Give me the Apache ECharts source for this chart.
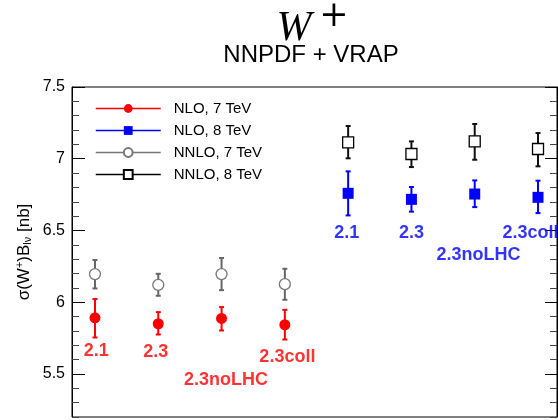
<!DOCTYPE html>
<html><head><meta charset="utf-8">
<script src="https://cdn.jsdelivr.net/npm/echarts@6/dist/echarts.min.js"></script>
<style>html,body{margin:0;padding:0;background:#fff}#c{width:558px;height:420px}</style>
</head><body><div id="c"></div>
<script>
// ---- data ----
const pdfSets = ['2.1', '2.3', '2.3noLHC', '2.3coll'];
const seriesNames = ['NLO, 7 TeV', 'NLO, 8 TeV', 'NNLO, 7 TeV', 'NNLO, 8 TeV'];
const xPos7 = [0, 1, 2, 3];
const xPos8 = [4, 5, 6, 7];
const nlo7 = [5.891, 5.850, 5.887, 5.843];
const nlo7Up = [0.131, 0.081, 0.079, 0.104];
const nlo7Dn = [0.137, 0.075, 0.084, 0.103];
const nnlo7 = [6.196, 6.121, 6.196, 6.126];
const nnlo7Up = [0.098, 0.077, 0.112, 0.107];
const nnlo7Dn = [0.100, 0.076, 0.112, 0.109];
const nlo8 = [6.759, 6.717, 6.754, 6.731];
const nlo8Up = [0.153, 0.086, 0.095, 0.116];
const nlo8Dn = [0.154, 0.086, 0.091, 0.110];
const nnlo8 = [7.114, 7.033, 7.121, 7.068];
const nnlo8Up = [0.114, 0.088, 0.121, 0.111];
const nnlo8Dn = [0.111, 0.091, 0.128, 0.121];
// annotation anchors (data units)
const labelX7 = [0.02, 0.96, 2.07, 3.04];
const labelY7 = [5.660, 5.653, 5.458, 5.618];
const labelX8 = [3.98, 5.00, 6.06, 6.88];
const labelY8 = [6.479, 6.479, 6.329, 6.485];
const yMin = 5.2, yMax = 7.5, yMajorMin = 5.0, yMinorStep = 0.1, yMajorStep = 0.5;
const xMin = -0.363, xMax = 7.30;

// ---- chart ----
const chart = echarts.init(document.getElementById('c'), null, {renderer: 'canvas'});
const FONT = 'Liberation Sans, Arial, Helvetica, sans-serif';

function pts(xs, ys) { return xs.map((x, i) => [x, ys[i]]); }
function errs(xs, ys, up, dn) { return xs.map((x, i) => [x, ys[i] - dn[i], ys[i] + up[i]]); }
function errRender(color) {
  return function (params, api) {
    const x = api.value(0), lo = api.value(1), hi = api.value(2);
    const a = api.coord([x, lo]), b = api.coord([x, hi]);
    const w = 2.5, st = {stroke: color, lineWidth: 2};
    return {type: 'group', children: [
      {type: 'line', shape: {x1: a[0], y1: a[1], x2: b[0], y2: b[1]}, style: st},
      {type: 'line', shape: {x1: a[0] - w, y1: a[1], x2: a[0] + w, y2: a[1]}, style: st},
      {type: 'line', shape: {x1: b[0] - w, y1: b[1], x2: b[0] + w, y2: b[1]}, style: st}
    ]};
  };
}
function errSeries(data, color) {
  return {type: 'custom', xAxisIndex: 0, yAxisIndex: 0, z: 1, silent: true,
    renderItem: errRender(color), encode: {x: 0, y: [1, 2]}, data: data};
}
function ptSeries(name, data, symbol, size, fill, stroke, bw) {
  return {type: 'line', name: name, xAxisIndex: 0, yAxisIndex: 0, z: 3, data: data,
    symbol: symbol, symbolSize: size, showSymbol: true, showAllSymbol: true,
    lineStyle: {color: stroke, width: 1.5, opacity: 0},
    itemStyle: {color: fill, borderColor: stroke, borderWidth: bw, opacity: 1},
    color: stroke, silent: true};
}
function labelSeries(xs, ys, color) {
  return {type: 'scatter', xAxisIndex: 0, yAxisIndex: 0, z: 4, symbolSize: 1, silent: true,
    itemStyle: {color: 'transparent'},
    label: {show: true, position: 'inside', formatter: p => p.data[2], color: color,
      fontFamily: FONT, fontWeight: 'bold', fontSize: 18},
    data: xs.map((x, i) => [x, ys[i], pdfSets[i]])};
}

const plotH = 330;
const pxPerUnit = plotH / (yMax - yMin);
const option = {
  animation: false,
  backgroundColor: '#fff',
  title: [
    {text: 'W', left: 289, top: 3, textAlign: 'center',
      textStyle: {fontFamily: 'Liberation Serif', fontStyle: 'italic', fontWeight: 'normal', fontSize: 42, color: '#000'}},
    {text: '+', left: 329, top: -6, textAlign: 'center',
      textStyle: {fontFamily: 'DejaVu Serif', fontWeight: 'normal', fontSize: 35, color: '#000'}},
    {text: 'NNPDF + VRAP', left: 306, top: 38, textAlign: 'center',
      textStyle: {fontFamily: FONT, fontSize: 24, fontWeight: 'normal', color: '#000'}}
  ],
  legend: {
    orient: 'vertical', left: 95, top: 101, padding: 0, itemWidth: 65, itemHeight: 11, itemGap: 7,
    selectedMode: false,
    data: seriesNames,
    lineStyle: {opacity: 1, width: 1.5},
    textStyle: {fontFamily: FONT, fontSize: 15, color: '#000', padding: [0, 0, 0, 8]}
  },
  grid: [
    {left: 72, right: 1, top: 87, height: plotH, outerBoundsMode: 'none', containLabel: false,
      show: true, borderColor: '#000', borderWidth: 1, backgroundColor: 'transparent'},
    {left: 72, right: 1, top: 87, height: (yMax - yMajorMin) * pxPerUnit, outerBoundsMode: 'none', containLabel: false}
  ],
  xAxis: [
    {type: 'value', gridIndex: 0, min: xMin, max: xMax, show: false},
    {type: 'value', gridIndex: 1, min: xMin, max: xMax, show: false}
  ],
  yAxis: [
    {type: 'value', gridIndex: 0, position: 'left', min: yMin, max: yMax, interval: yMinorStep,
      axisLine: {show: true, onZero: false, lineStyle: {color: '#000', width: 1}},
      axisTick: {show: true, inside: true, length: 7, lineStyle: {color: '#444'}},
      axisLabel: {show: false}, splitLine: {show: false},
      name: '{t|σ(W}{sup|+}{t|)B}{sub|lν}{t| [nb]}', nameLocation: 'middle', nameRotate: 90, nameGap: 38,
      nameTextStyle: {rich: {
        t: {fontFamily: FONT, fontSize: 17, color: '#000'},
        sup: {fontFamily: FONT, fontSize: 11, color: '#000', padding: [0, 0, 9, 0]},
        sub: {fontFamily: FONT, fontSize: 11, color: '#000', padding: [8, 0, 0, 0]}
      }}},
    {type: 'value', gridIndex: 0, position: 'right', min: yMin, max: yMax, interval: yMinorStep,
      axisLine: {show: true, onZero: false, lineStyle: {color: '#000', width: 1}},
      axisTick: {show: true, inside: true, length: 7, lineStyle: {color: '#444'}},
      axisLabel: {show: false}, splitLine: {show: false}},
    {type: 'value', gridIndex: 1, position: 'left', min: yMajorMin, max: yMax, interval: yMajorStep,
      axisLine: {show: false, onZero: false}, splitLine: {show: false},
      axisTick: {show: true, inside: true, length: 13, lineStyle: {color: '#000'}},
      axisLabel: {show: true, margin: 7, fontFamily: FONT, fontSize: 16, color: '#000',
        formatter: v => (v < yMin ? '' : String(+v.toFixed(1)))}},
    {type: 'value', gridIndex: 1, position: 'right', min: yMajorMin, max: yMax, interval: yMajorStep,
      axisLine: {show: false, onZero: false}, splitLine: {show: false},
      axisTick: {show: true, inside: true, length: 12, lineStyle: {color: '#000'}},
      axisLabel: {show: false}}
  ],
  series: [
    errSeries(errs(xPos7, nlo7, nlo7Up, nlo7Dn), '#ff0000'),
    errSeries(errs(xPos7, nnlo7, nnlo7Up, nnlo7Dn), '#666666'),
    errSeries(errs(xPos8, nlo8, nlo8Up, nlo8Dn), '#0000ff'),
    errSeries(errs(xPos8, nnlo8, nnlo8Up, nnlo8Dn), '#111111'),
    ptSeries(seriesNames[0], pts(xPos7, nlo7), 'circle', 11, '#ff0000', '#ff0000', 0),
    ptSeries(seriesNames[1], pts(xPos8, nlo8), 'rect', 11, '#0000ff', '#0000ff', 0),
    ptSeries(seriesNames[2], pts(xPos7, nnlo7), 'circle', 11, '#ffffff', '#777777', 1.3),
    ptSeries(seriesNames[3], pts(xPos8, nnlo8), 'rect', 11, '#ffffff', '#000000', 1.3),
    labelSeries(labelX7, labelY7, '#ff0000'),
    labelSeries(labelX8, labelY8, '#0000ff')
  ]
};
chart.setOption(option);
</script></body></html>
